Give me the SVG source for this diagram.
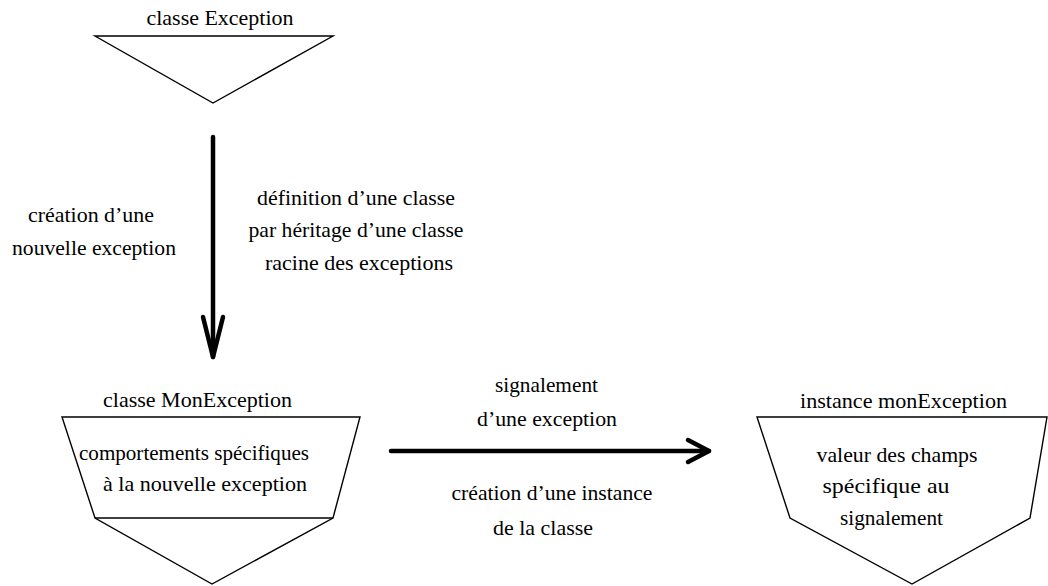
<svg xmlns="http://www.w3.org/2000/svg" width="1048" height="586" viewBox="0 0 1048 586">
<defs>
<style>
text{font-family:"Liberation Serif","Times New Roman",Times,serif;font-size:21px;fill:#000;text-anchor:middle}
.shape{fill:#fff;stroke:#000;stroke-width:1.4;stroke-linejoin:miter}
.conn{fill:none;stroke:#000;stroke-width:4.5;stroke-linecap:round;stroke-linejoin:round}
</style>
</defs>
<rect width="1048" height="586" fill="#fff"/>
<g id="node-exception">
<polygon class="shape" points="95,36 333,36 213,103"/>
<text x="220" y="25" textLength="147" lengthAdjust="spacingAndGlyphs">classe Exception</text>
</g>
<g id="node-monexception">
<polygon class="shape" points="62,417 360,417 333,518 212,584 95,518"/>
<line class="shape" x1="95" y1="518" x2="333" y2="518"/>
<text x="197.5" y="407" textLength="189" lengthAdjust="spacingAndGlyphs">classe MonException</text>
<text x="194" y="460" textLength="230" lengthAdjust="spacingAndGlyphs">comportements spécifiques</text>
<text x="205" y="491" textLength="204" lengthAdjust="spacingAndGlyphs">à la nouvelle exception</text>
</g>
<g id="node-instance">
<polygon class="shape" points="757,417 1047,417 1030,518 912,584 790,518"/>
<text x="903.5" y="408" textLength="207" lengthAdjust="spacingAndGlyphs">instance monException</text>
<text x="897" y="462" textLength="161" lengthAdjust="spacingAndGlyphs">valeur des champs</text>
<text x="886" y="493" textLength="127" lengthAdjust="spacingAndGlyphs">spécifique au</text>
<text x="891.5" y="525" textLength="103" lengthAdjust="spacingAndGlyphs">signalement</text>
</g>
<g id="connectors">
<g id="edge-heritage">
<line class="conn" x1="213" y1="137" x2="213" y2="357"/>
<polyline class="conn" points="203,317 213,357 223,317"/>
<text x="91" y="222" textLength="126" lengthAdjust="spacingAndGlyphs">création d’une</text>
<text x="94" y="255" textLength="164" lengthAdjust="spacingAndGlyphs">nouvelle exception</text>
<text x="356" y="205" textLength="198" lengthAdjust="spacingAndGlyphs">définition d’une classe</text>
<text x="356" y="237" textLength="215" lengthAdjust="spacingAndGlyphs">par héritage d’une classe</text>
<text x="359" y="270" textLength="188" lengthAdjust="spacingAndGlyphs">racine des exceptions</text>
</g>
<g id="edge-signalement">
<line class="conn" x1="391" y1="451" x2="709" y2="451"/>
<polyline class="conn" points="688,440 709,451 688,462"/>
<text x="546.5" y="392" textLength="103" lengthAdjust="spacingAndGlyphs">signalement</text>
<text x="547" y="426" textLength="140" lengthAdjust="spacingAndGlyphs">d’une exception</text>
<text x="552" y="500" textLength="201" lengthAdjust="spacingAndGlyphs">création d’une instance</text>
<text x="543" y="535" textLength="100" lengthAdjust="spacingAndGlyphs">de la classe</text>
</g>
</g>
</svg>
